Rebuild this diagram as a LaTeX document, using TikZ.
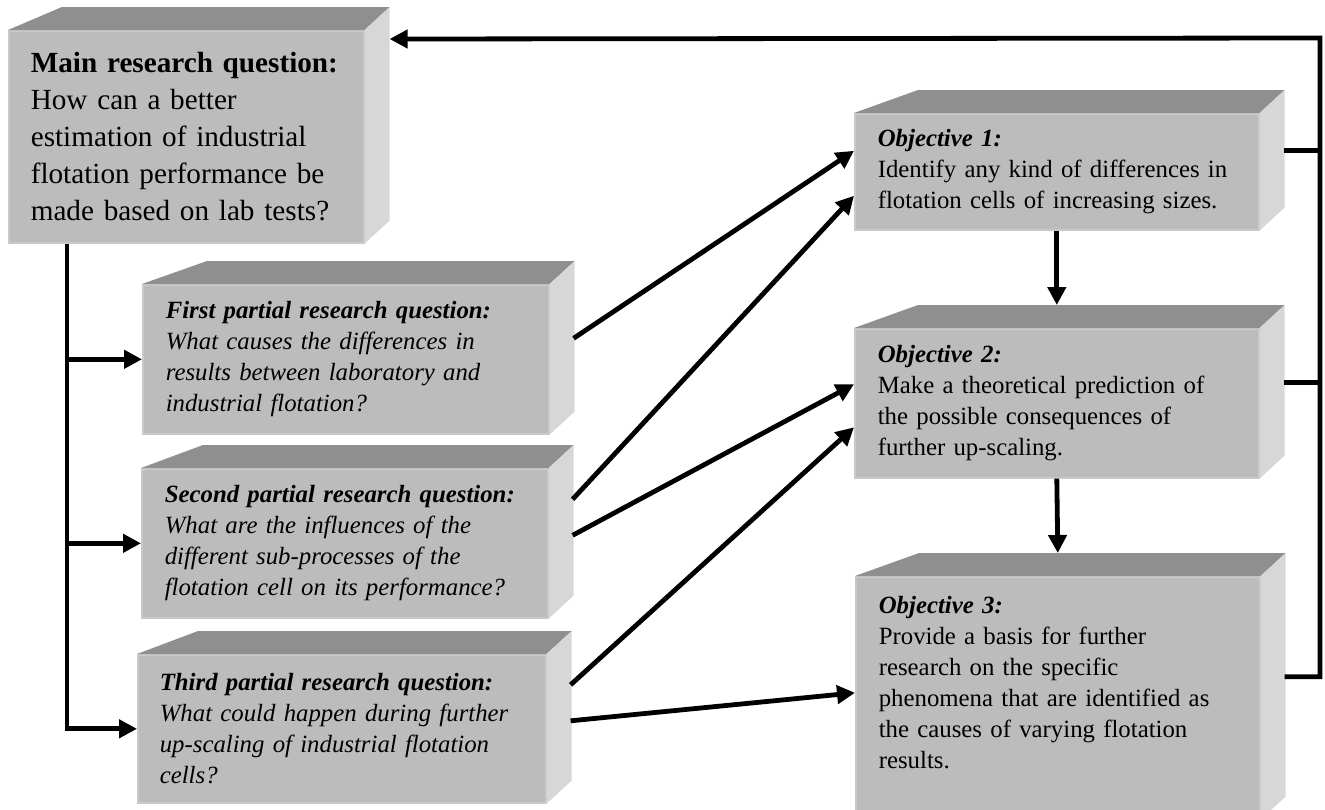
\documentclass[tikz,border=0pt]{standalone}
\usepackage{fontspec}
\setmainfont{Liberation Serif}
\usepackage{tikz}
\usetikzlibrary{calc,positioning,arrows.meta}
\definecolor{boxfront}{HTML}{BCBCBC}
\definecolor{boxtop}{HTML}{8F8F8F}
\definecolor{boxside}{HTML}{D7D7D7}
\definecolor{boxedge}{HTML}{C9C9C9}

\begin{document}
\begin{tikzpicture}[x=0.5pt, y=-0.5pt,
  cubebox/.style={
    rectangle, fill=boxfront, draw=boxedge, line width=0.8pt,
    anchor=north west, inner xsep=11.5pt, inner ysep=0pt, align=left,
    font=\fontsize{12.4}{15.5}\selectfont,
  },
  link/.style={line width=2.4pt, -{Triangle[length=9pt,width=9pt]}},
  feed/.style={line width=2.4pt},
]
\useasboundingbox (0,0) rectangle (1325,809);

\node[cubebox, font=\fontsize{14.6}{18.5}\selectfont, inner xsep=11pt, text width=155.5pt, minimum width=177.5pt, minimum height=106pt] (main) at (8,30) {
  \textbf{Main research question:}\\
  How can a better\\
  estimation of industrial\\
  flotation performance be\\
  made based on lab tests?
};

\node[cubebox, text width=180pt, minimum width=203pt, minimum height=74.5pt] (rq1) at (142,284) {
  {\bfseries\itshape First partial research question:}\\
  \itshape What causes the differences in\\
  \itshape results between laboratory and\\
  \itshape industrial flotation?
};

\node[cubebox, text width=180pt, minimum width=203pt, minimum height=74.5pt] (rq2) at (141,468) {
  {\bfseries\itshape Second partial research question:}\\
  \itshape What are the influences of the\\
  \itshape different sub-processes of the\\
  \itshape flotation cell on its performance?
};

\node[cubebox, inner xsep=11pt, text width=182pt, minimum width=204pt, minimum height=74pt] (rq3) at (137,654) {
  {\bfseries\itshape Third partial research question:}\\
  \itshape\makebox[182pt][s]{What could happen during further}\\
  \itshape\makebox[182pt][s]{up-scaling of industrial flotation}\\
  \itshape cells?
};

\node[cubebox, text width=179pt, minimum width=202pt, minimum height=58pt] (obj1) at (854,113) {
  {\bfseries\itshape Objective 1:}\\
  Identify any kind of differences in\\
  flotation cells of increasing sizes.
};

\node[cubebox, text width=179pt, minimum width=202pt, minimum height=74.5pt] (obj2) at (854,328) {
  {\bfseries\itshape Objective 2:}\\
  Make a theoretical prediction of\\
  the possible consequences of\\
  further up-scaling.
};

\node[cubebox, text width=179pt, minimum width=202pt, minimum height=121pt] (obj3) at (855,576) {
  {\bfseries\itshape Objective 3:}\\
  Provide a basis for further\\
  research on the specific\\
  phenomena that are identified as\\
  the causes of varying flotation\\
  results.\\
  \mbox{}
};

\foreach \n/\d in {main/54,rq1/65,rq2/62,rq3/61,obj1/64,obj2/64,obj3/64} {
  \fill[boxtop] (\n.north west) -- ([shift={(\d,-23)}]\n.north west)
    -- ([shift={(25,-23)}]\n.north east) -- (\n.north east) -- cycle;
  \fill[boxside] (\n.north east) -- ([shift={(25,-23)}]\n.north east)
    -- ([shift={(25,-23)}]\n.south east) -- (\n.south east) -- cycle;
}

\coordinate (trunk) at ([xshift=29.5pt]main.south west);
\coordinate (bus) at (1320,38);

\draw[link] (trunk) |- (rq3.west);
\draw[link] (trunk |- rq1.west) -- (rq1.west);
\draw[link] (trunk |- rq2.west) -- (rq2.west);

\draw[link] ([shift={(24,-21)}]rq1.east) -- ([shift={(0,-21)}]obj1.west);
\draw[link] ([shift={(24,-44)}]rq2.east) -- ([shift={(0,24)}]obj1.west);
\draw[link] ([shift={(24,-8)}]rq2.east) -- ([shift={(0,-19)}]obj2.west);
\draw[link] ([shift={(24,-44)}]rq3.east) -- ([shift={(0,24)}]obj2.west);
\draw[link] ([shift={(24,-8)}]rq3.east) -- ([shift={(0,-5)}]obj3.west);

\draw[link] (obj1.south) -- ([yshift=11.5pt]obj2.north);
\draw[link] (obj2.south) -- ([yshift=11.5pt]obj3.north);

\draw[link] ([shift={(24,-21)}]obj3.east) -| (bus) -- ([shift={(25,9)}]main.north east);
\draw[feed] ([shift={(24,-21)}]obj1.east) -| (bus);
\draw[feed] ([shift={(24,-21)}]obj2.east) -| (bus);

\end{tikzpicture}
\end{document}
